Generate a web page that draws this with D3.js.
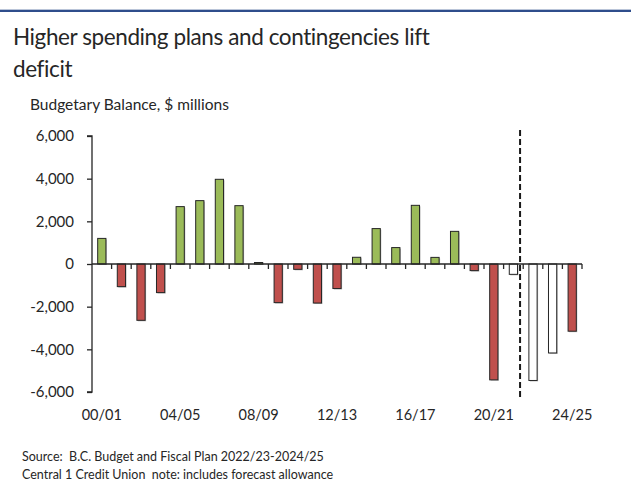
<!DOCTYPE html>
<html>
<head>
<meta charset="utf-8">
<script src="https://cdn.jsdelivr.net/npm/d3@7"></script>
<style>
  body { margin: 0; background: #fff; }
  svg text { font-family: Lato, "Open Sans", sans-serif; fill: #262626; }
</style>
</head>
<body>
<div id="chart"></div>
<script>
// fiscal years, budgetary balance ($ millions)
const years = ["00/01", "01/02", "02/03", "03/04", "04/05", "05/06", "06/07", "07/08",
  "08/09", "09/10", "10/11", "11/12", "12/13", "13/14", "14/15", "15/16", "16/17",
  "17/18", "18/19", "19/20", "20/21", "21/22", "22/23", "23/24", "24/25"];
const balance = [1200, -1060, -2640, -1340, 2690, 2970, 3970, 2735,
  70, -1810, -250, -1830, -1150, 315, 1660, 770, 2750,
  310, 1530, -310, -5430, -485, -5460, -4170, -3150];
// forecast years drawn as hollow bars
const forecastYears = ["21/22", "22/23", "23/24"];
const labelYears = ["00/01", "04/05", "08/09", "12/13", "16/17", "20/21", "24/25"];
const yTicks = [-6000, -4000, -2000, 0, 2000, 4000, 6000];

const width = 631;
const height = 487;
const margin = { top: 136, right: 49, bottom: 95, left: 92 };

const svg = d3.select('#chart').append('svg')
  .attr('width', width)
  .attr('height', height);

// top rule
svg.append('rect')
  .attr('x', 0).attr('y', 9).attr('width', width).attr('height', 1)
  .style('fill', '#b9c4d8');
svg.append('rect')
  .attr('x', 0).attr('y', 10).attr('width', width).attr('height', 2)
  .style('fill', '#2f4e8c');

svg.append('text')
  .attr('x', 13).attr('y', 45)
  .style('font-size', '22.5px')
  .style('letter-spacing', '-0.4px')
  .text('Higher spending plans and contingencies lift');
svg.append('text')
  .attr('x', 13).attr('y', 77)
  .style('font-size', '22.5px')
  .style('letter-spacing', '-0.4px')
  .text('deficit');
svg.append('text')
  .attr('x', 30).attr('y', 110)
  .style('font-size', '15.5px')
  .text('Budgetary Balance, $ millions');

const x = d3.scaleBand()
  .domain(years)
  .range([margin.left, width - margin.right])
  .paddingInner(0.58)
  .paddingOuter(0.29);

const y = d3.scaleLinear()
  .domain([-6000, 6000])
  .range([height - margin.bottom, margin.top]);

const fmt = (d) => d3.format(',')(d).replace('\u2212', '-');

// bars
const bars = svg.append('g');
const data = years.map((yr, i) => ({ yr, v: balance[i] }));

bars.selectAll('.shadow')
  .data(data)
  .enter().append('rect')
  .attr('class', 'shadow')
  .attr('x', (d) => x(d.yr) + 1)
  .attr('y', (d) => Math.min(y(d.v), y(0)) + 1)
  .attr('width', x.bandwidth())
  .attr('height', (d) => Math.abs(y(d.v) - y(0)))
  .style('fill', '#bdbdbd');

bars.selectAll('.bar')
  .data(data)
  .enter().append('rect')
  .attr('class', 'bar')
  .attr('x', (d) => x(d.yr))
  .attr('y', (d) => Math.min(y(d.v), y(0)))
  .attr('width', x.bandwidth())
  .attr('height', (d) => Math.abs(y(d.v) - y(0)))
  .style('fill', (d) => {
    if (forecastYears.includes(d.yr)) return '#ffffff';
    return d.v >= 0 ? '#9bbb59' : '#c0504d';
  })
  .style('stroke', '#262626')
  .style('stroke-width', 1);

// y axis
const yAxis = d3.axisLeft(y)
  .tickValues(yTicks)
  .tickSize(5)
  .tickPadding(13)
  .tickFormat(fmt);

const gy = svg.append('g')
  .attr('transform', `translate(${margin.left},0)`)
  .call(yAxis);
gy.select('.domain').attr('d', `M-5,${y(6000)}H0V${y(-6000)}H-5`);
gy.selectAll('line, path').style('stroke', '#262626').style('stroke-width', 1.3);
gy.selectAll('text')
  .style('font-size', '15px')
  .style('font-family', 'Lato, "Open Sans", sans-serif')
  .style('fill', '#262626');

// x axis along zero, ticks at category boundaries
const gx = svg.append('g');
gx.append('line')
  .attr('x1', margin.left).attr('x2', width - margin.right)
  .attr('y1', y(0)).attr('y2', y(0))
  .style('stroke', '#262626').style('stroke-width', 1.3);
gx.selectAll('.xtick')
  .data(d3.range(1, years.length + 1))
  .enter().append('line')
  .attr('class', 'xtick')
  .attr('x1', (i) => margin.left + i * x.step())
  .attr('x2', (i) => margin.left + i * x.step())
  .attr('y1', y(0)).attr('y2', y(0) + 5)
  .style('stroke', '#262626').style('stroke-width', 1.3);

svg.append('g').selectAll('text')
  .data(labelYears)
  .enter().append('text')
  .attr('x', (d) => x(d) + x.bandwidth() / 2)
  .attr('y', y(-6000) + 28)
  .attr('text-anchor', 'middle')
  .style('font-size', '14.5px')
  .text((d) => d);

// forecast divider
const divX = x(years[22]) - x.step() * 0.45;
svg.append('line')
  .attr('x1', divX).attr('x2', divX)
  .attr('y1', y(6000) - 6).attr('y2', y(-6000) + 7)
  .style('stroke', '#1a1a1a')
  .style('stroke-width', 2)
  .style('stroke-dasharray', '6,3');

svg.append('text')
  .attr('x', 22).attr('y', 461)
  .style('font-size', '12.5px')
  .style('white-space', 'pre')
  .text('Source:  B.C. Budget and Fiscal Plan 2022/23-2024/25');
svg.append('text')
  .attr('x', 22).attr('y', 479)
  .style('font-size', '12.5px')
  .style('white-space', 'pre')
  .text('Central 1 Credit Union  note: includes forecast allowance');
</script>
</body>
</html>
